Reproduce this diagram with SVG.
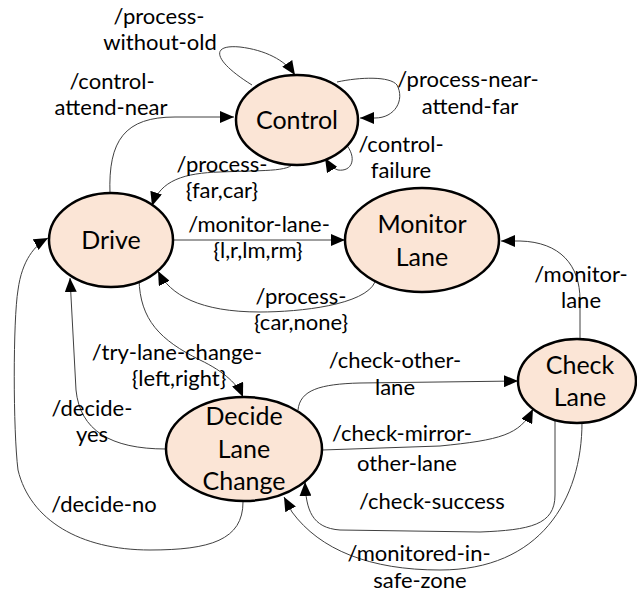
<svg xmlns="http://www.w3.org/2000/svg" width="637" height="596" viewBox="0 0 637 596">
<defs>
<marker id="arr" markerUnits="userSpaceOnUse" markerWidth="14" markerHeight="12" refX="14" refY="6" orient="auto">
<path d="M0,0 L14,6 L0,12 z" fill="#000"/>
</marker>
<style>
.node ellipse{fill:#FBE5D6;stroke:#000;stroke-width:2.5}
.node text{font-family:Lato,"Liberation Sans",Arial,sans-serif;font-size:25px;fill:#000;text-anchor:middle}
.edges path{fill:none;stroke:#404040;stroke-width:1;marker-end:url(#arr)}
.lbl{font-family:Lato,"Liberation Sans",Arial,sans-serif;font-size:22px;fill:#000;text-anchor:middle}
</style>
</defs>
<rect width="637" height="596" fill="#fff"/>
<g class="edges" id="connectors">
<path d="M252,85 C215,62 208,44 240,47 C265,50 285,60 295,75"/>
<path d="M337,82 C360,77 390,76 397,85 C405,100 395,118 375,118 L360,118"/>
<path d="M345,143 C358,158 352,172 338,170 C332,168 328,163 325,158"/>
<path d="M110,194 C108,140 125,117 175,117 L234,117"/>
<path d="M295,160 C293,172 270,170 220,172 C185,173 160,180 152,206"/>
<path d="M173,240 L345,240"/>
<path d="M375,282 C365,305 300,312 260,312 C200,312 170,295 158,271"/>
<path d="M139,279 C140,320 160,340 200,360 C225,372 238,385 243,397"/>
<path d="M166,449 C110,449 80,430 76,390 L70,278"/>
<path d="M243,502 C243,540 210,550 150,550 C80,550 30,520 18,470 C13,430 13,320 18,290 C22,260 35,245 48,238"/>
<path d="M298,410 C300,390 320,384 360,383 L518,381"/>
<path d="M322,450 L440,446 C500,440 520,435 533,409"/>
<path d="M555,421 L555,495 C555,525 530,530 480,532 L340,530 C312,528 306,510 305,482"/>
<path d="M582,422 C582,500 540,570 440,570 C370,570 320,550 292,512 L284,497"/>
<path d="M580,339 L580,300 C580,265 560,242 520,241 L501,241"/>
</g>
<g id="labels">
<text class="lbl" x="159" y="24">/process-</text>
<text class="lbl" x="160" y="50">without-old</text>
<text class="lbl" x="112" y="89">/control-</text>
<text class="lbl" x="111" y="115">attend-near</text>
<text class="lbl" x="468" y="87">/process-near-</text>
<text class="lbl" x="470" y="114">attend-far</text>
<text class="lbl" x="401" y="152">/control-</text>
<text class="lbl" x="401" y="178">failure</text>
<text class="lbl" x="222" y="172">/process-</text>
<text class="lbl" x="222" y="198">{far,car}</text>
<text class="lbl" x="259" y="232">/monitor-lane-</text>
<text class="lbl" x="258" y="258">{l,r,lm,rm}</text>
<text class="lbl" x="301" y="304">/process-</text>
<text class="lbl" x="301" y="330">{car,none}</text>
<text class="lbl" x="177" y="360">/try-lane-change-</text>
<text class="lbl" x="179" y="386">{left,right}</text>
<text class="lbl" x="92" y="416">/decide-</text>
<text class="lbl" x="92" y="442">yes</text>
<text class="lbl" x="104" y="512">/decide-no</text>
<text class="lbl" x="395" y="368">/check-other-</text>
<text class="lbl" x="395" y="395">lane</text>
<text class="lbl" x="402" y="441">/check-mirror-</text>
<text class="lbl" x="407" y="471">other-lane</text>
<text class="lbl" x="432" y="509">/check-success</text>
<text class="lbl" x="419" y="561">/monitored-in-</text>
<text class="lbl" x="420" y="588">safe-zone</text>
<text class="lbl" x="581" y="282">/monitor-</text>
<text class="lbl" x="581" y="308">lane</text>
</g>
<g id="node-control" class="node">
<ellipse cx="297" cy="120" rx="61" ry="45"/>
<text x="297" y="129">Control</text>
</g>
<g id="node-drive" class="node">
<ellipse cx="111" cy="240" rx="62" ry="47"/>
<text x="111" y="249">Drive</text>
</g>
<g id="node-monitor-lane" class="node">
<ellipse cx="422" cy="240" rx="77" ry="52"/>
<text x="422" y="233">Monitor</text>
<text x="422" y="266">Lane</text>
</g>
<g id="node-check-lane" class="node">
<ellipse cx="577" cy="381" rx="59" ry="42"/>
<text x="580" y="374">Check</text>
<text x="580" y="406">Lane</text>
</g>
<g id="node-decide" class="node">
<ellipse cx="244" cy="449" rx="78" ry="52"/>
<text x="244" y="425">Decide</text>
<text x="244" y="458">Lane</text>
<text x="244" y="490">Change</text>
</g>
</svg>
